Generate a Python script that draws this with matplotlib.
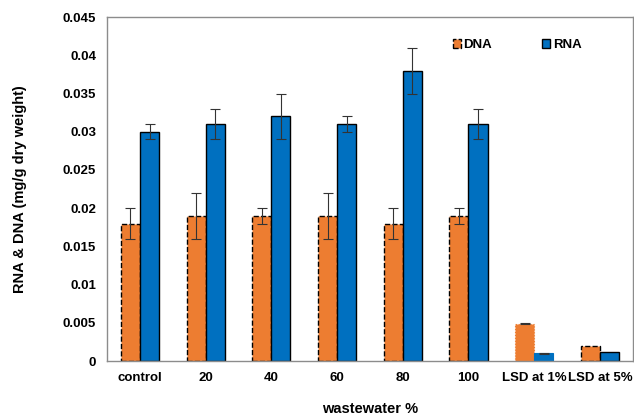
import matplotlib
matplotlib.use("Agg")
import matplotlib.pyplot as plt
import numpy as np

categories = ["control", "20", "40", "60", "80", "100", "LSD at 1%", "LSD at 5%"]
dna = [0.018, 0.019, 0.019, 0.019, 0.018, 0.019, 0.0049, 0.002]
rna = [0.030, 0.031, 0.032, 0.031, 0.038, 0.031, 0.001, 0.0012]
dna_err = [0.002, 0.003, 0.001, 0.003, 0.002, 0.001, 0.0001, 0.0]
rna_err = [0.001, 0.002, 0.003, 0.001, 0.003, 0.002, 0.0001, 0.0]

plt.rcParams['font.family'] = ['Liberation Sans', 'DejaVu Sans']
plt.rcParams['font.weight'] = 'bold'

fig = plt.figure(figsize=(6.34, 4.17), dpi=100)
ax = fig.add_axes([0.169, 0.134, 0.829, 0.825])

orange = "#ED7D31"
blue = "#0070C0"
x = np.arange(len(categories))
w = 0.29

for i in range(len(categories)):
    if i == 6:
        ec_d, ec_r, lw = orange, blue, 0.8
        ls_d = ':'
    else:
        ec_d, ec_r, lw = 'black', 'black', 1.0
        ls_d = '--'
    ax.bar(x[i] - w / 2, dna[i], w, color=orange, edgecolor=ec_d, linewidth=lw,
           linestyle=ls_d, label="DNA" if i == 0 else None)
    ax.bar(x[i] + w / 2, rna[i], w, color=blue, edgecolor=ec_r, linewidth=lw,
           label="RNA" if i == 0 else None)

ax.errorbar(x[:7] - w / 2, dna[:7], yerr=dna_err[:7], fmt='none', ecolor='#333333',
            elinewidth=0.8, capsize=3.5, capthick=0.8)
ax.errorbar(x[:7] + w / 2, rna[:7], yerr=rna_err[:7], fmt='none', ecolor='#333333',
            elinewidth=0.8, capsize=3.5, capthick=0.8)

ax.set_xlim(-0.5, len(categories) - 0.5)
ax.set_ylim(0, 0.045)
ax.set_yticks(np.arange(0, 0.0451, 0.005))
ax.set_yticklabels(["0", "0.005", "0.01", "0.015", "0.02", "0.025", "0.03",
                    "0.035", "0.04", "0.045"])
ax.set_xticks(x)
ax.set_xticklabels(categories)
ax.tick_params(axis='both', length=0, labelsize=9.5, pad=8)
for lab in ax.get_xticklabels() + ax.get_yticklabels():
    lab.set_fontweight('bold')

for s in ax.spines.values():
    s.set_color('#8c8c8c')
    s.set_linewidth(1.0)

ax.set_ylabel("RNA & DNA (mg/g dry weight)", fontsize=10.5, fontweight='bold', labelpad=26)
ax.set_xlabel("wastewater %", fontsize=10.5, fontweight='bold', labelpad=13)

leg = ax.legend(loc='upper left', bbox_to_anchor=(0.635, 0.97), ncol=2, frameon=False,
                fontsize=9.5, handlelength=0.6, handleheight=0.6, handletextpad=0.2,
                columnspacing=3.8)
for t in leg.get_texts():
    t.set_fontweight('bold')

fig.savefig("out.png", dpi=100)
